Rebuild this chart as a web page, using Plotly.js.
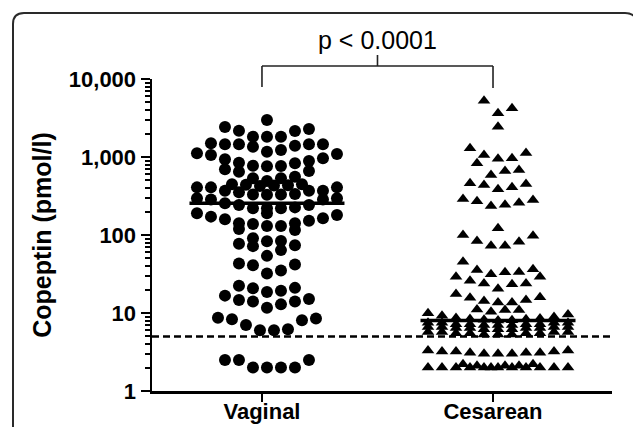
<!DOCTYPE html>
<html><head><meta charset="utf-8">
<script src="https://cdn.plot.ly/plotly-3.0.1.min.js"></script>
<style>html,body{margin:0;padding:0;background:#fff}#chart{width:633px;height:427px}</style>
</head><body><div id="chart"></div>
<script>
// ---------- data ----------
const categories = ['Vaginal', 'Cesarean'];
const vaginal = [
  2.0, 2.0, 2.0, 2.0, 2.5, 2.5, 2.5,
  6.0, 6.0, 6.2, 7.0, 8.1, 8.3, 8.5, 8.7,
  11.7, 12.9, 14.0, 14.0, 14.7, 15.1, 16.7,
  18.6, 19.3, 20.7, 21, 22.4,
  32, 35, 41, 42, 43,
  54, 64, 72, 74, 77,
  83, 84, 91, 116, 119,
  130, 130, 138, 141, 141, 152, 159, 164, 172, 180,
  190, 190,
  220, 220, 220, 226, 243, 243, 255, 286, 286, 295, 295,
  328, 330, 330, 335, 352, 370, 370, 370, 408, 408, 408,
  425, 430, 435, 440, 446, 446,
  492, 533, 533, 559, 649, 662, 695,
  760, 765, 774, 830, 845, 889, 933, 962, 1061, 1092, 1120,
  1169, 1230, 1355, 1396, 1455, 1455, 1455, 1455, 1499,
  1820, 1820, 1820, 2155, 2175, 2285, 2425,
  2980
];
const cesarean = [
  2.0, 2.0, 2.0, 2.0, 2.0, 2.0, 2.0, 2.0, 2.0, 2.0, 2.0, 2.0, 2.1, 2.1, 2.1, 2.2, 2.2,
  3.0, 3.0, 3.0, 3.1, 3.1, 3.1, 3.2, 3.2, 3.2, 3.3, 3.3,
  5.3, 5.3, 5.3, 5.5, 5.5, 5.5, 5.5, 5.7, 5.7, 5.7, 5.7,
  6.2, 6.2, 6.2, 6.4, 6.4, 6.4, 6.4, 6.6, 6.6, 6.6, 6.6,
  7.0, 7.0, 7.0, 7.2, 7.2, 7.2, 7.2, 7.5, 7.5, 7.5, 7.5,
  8.0, 8.1, 8.2, 8.3, 8.4, 8.5, 8.6, 8.9, 9.2, 9.6, 9.9, 10.4, 10.9, 10.9, 11.1,
  13.6, 13.6, 14.3, 14.7, 15.7, 15.9, 17.5,
  20.5, 23.3, 23.9, 23.9,
  26, 29.2, 29.2, 31.3, 33.3, 33.5, 35.5, 36.3,
  45.5,
  73, 73, 82, 84, 98, 100,
  122,
  236, 245, 259, 270, 281, 290,
  387, 408, 438, 450, 462,
  588, 662, 681, 830,
  947, 965, 1061, 1127, 1290,
  2445, 3630, 4210, 5270
];
const medians = [255, 8];
const thresholdValue = 5;
const yTickValues = [1, 10, 100, 1000, 10000];
const yTickLabels = ['1', '10', '100', '1,000', '10,000'];
const yTitle = 'Copeptin (pmol/l)';
const pLabel = 'p < 0.0001';

// ---------- layout constants ----------
const W = 633, H = 427;
const M = {l: 152, r: 21, t: 79, b: 36};
const xRange = [-0.476, 1.515];
const yRange = [0, 4];
const plotW = W - M.l - M.r, plotH = H - M.t - M.b;
const pxPerX = plotW / (xRange[1] - xRange[0]);
const pxPerDecade = plotH / (yRange[1] - yRange[0]);
const slotPx = 14, rowPx = 13.3, rowCap = 11, groupShiftPx = 5;
const FONT = 'Liberation Sans, Arial, sans-serif';

// Prism-like dot layout: rows of close values, spread centre-out
function swarm(values, center) {
  const sorted = values.slice().sort((a, b) => a - b);
  const rows = [];
  let i = 0;
  while (i < sorted.length) {
    const start = Math.log10(sorted[i]);
    let j = i;
    while (j < sorted.length && (Math.log10(sorted[j]) - start) * pxPerDecade < rowPx) j++;
    const bin = sorted.slice(i, j);
    for (let k = 0; k < bin.length; k += rowCap) rows.push(bin.slice(k, k + rowCap));
    i = j;
  }
  const c = center + groupShiftPx / pxPerX;
  const xs = [], ys = [];
  rows.forEach(row => {
    const n = row.length;
    row.forEach((v, idx) => {
      let slot;
      if (n % 2 === 1) {
        if (idx === 0) slot = 0;
        else { const m = Math.ceil(idx / 2); slot = (idx % 2 === 1) ? m : -m; }
      } else {
        if (idx === 0) slot = -0.5;
        else if (idx === 1) slot = 0.5;
        else { const m = Math.floor(idx / 2) + 0.5; slot = (idx % 2 === 0) ? m : -m; }
      }
      xs.push(c + slot * slotPx / pxPerX);
      ys.push(v);
    });
  });
  return {xs, ys};
}

const sv = swarm(vaginal, 0);
const sc = swarm(cesarean, 1);
const medHalf = 77.5 / pxPerX;
const sh = groupShiftPx / pxPerX;

const traces = [
  {x: sv.xs, y: sv.ys, type: 'scatter', mode: 'markers', name: categories[0],
   marker: {symbol: 'circle', size: 12, color: '#000'}, hoverinfo: 'y'},
  {x: sc.xs, y: sc.ys, type: 'scatter', mode: 'markers', name: categories[1],
   marker: {symbol: 'triangle-up', size: 11, color: '#000'}, hoverinfo: 'y'},
  {x: [sh - medHalf, sh + medHalf, null, 1 + sh - medHalf, 1 + sh + medHalf],
   y: [medians[0], medians[0], null, medians[1], medians[1]],
   type: 'scatter', mode: 'lines', line: {color: '#000', width: 3.5}, hoverinfo: 'skip'},
  {x: [xRange[0], xRange[1]], y: [thresholdValue, thresholdValue],
   type: 'scatter', mode: 'lines', line: {color: '#000', width: 2.5, dash: '7px,4px'}, hoverinfo: 'skip'}
];

// pixel -> paper helpers
const px2x = px => (px - M.l) / plotW;
const py2y = py => (H - M.b - py) / plotH;

const minorVals = [];
for (let d = 0; d < 4; d++) for (let k = 2; k <= 9; k++) minorVals.push(k * Math.pow(10, d));

const bracketTop = py2y(66), bracketLeftEnd = py2y(87), bracketRightEnd = py2y(88), bracketTick = py2y(55);
const bl = {color: '#222', width: 1.6};
const cardPath = 'M ' + px2x(13) + ',' + py2y(440) + ' L ' + px2x(13) + ',' + py2y(24) +
  ' Q ' + px2x(13) + ',' + py2y(13) + ' ' + px2x(24) + ',' + py2y(13) +
  ' L ' + px2x(625) + ',' + py2y(13) + ' Q ' + px2x(637) + ',' + py2y(13) + ' ' + px2x(637) + ',' + py2y(25) +
  ' L ' + px2x(637) + ',' + py2y(440);

const layout = {
  width: W, height: H,
  margin: M,
  paper_bgcolor: '#fff', plot_bgcolor: '#fff',
  showlegend: false,
  font: {family: FONT, color: '#000'},
  xaxis: {
    range: xRange, tickmode: 'array', tickvals: [0, 1],
    ticktext: categories.map(c => '<b>' + c + '</b>'),
    tickfont: {size: 22, family: FONT, color: '#000'},
    ticks: 'outside', ticklen: 8, tickwidth: 2.5, tickcolor: '#000',
    ticklabelstandoff: -9,
    showline: true, linewidth: 2.5, linecolor: '#000',
    showgrid: false, zeroline: false, fixedrange: true
  },
  yaxis: {
    type: 'log', range: yRange, tickmode: 'array', tickvals: yTickValues,
    ticktext: yTickLabels.map(t => '<b>' + t + '</b>'),
    tickfont: {size: 22, family: FONT, color: '#000'},
    ticks: 'outside', ticklen: 9, tickwidth: 2.5, tickcolor: '#000',
    minor: {tickmode: 'array', tickvals: minorVals, ticks: 'outside', ticklen: 5, tickwidth: 2, tickcolor: '#000', showgrid: false},
    showline: true, linewidth: 2.5, linecolor: '#000',
    showgrid: false, zeroline: false, fixedrange: true,
    title: {text: '<b>' + yTitle + '</b>', font: {size: 25, family: FONT, color: '#000'}, standoff: 10}
  },
  shapes: [
    {type: 'line', xref: 'x', yref: 'paper', x0: 0, x1: 1, y0: bracketTop, y1: bracketTop, line: bl},
    {type: 'line', xref: 'x', yref: 'paper', x0: 0, x1: 0, y0: bracketTop, y1: bracketLeftEnd, line: bl},
    {type: 'line', xref: 'x', yref: 'paper', x0: 1, x1: 1, y0: bracketTop, y1: bracketRightEnd, line: bl},
    {type: 'line', xref: 'x', yref: 'paper', x0: 0.5, x1: 0.5, y0: bracketTop, y1: bracketTick, line: bl},
    {type: 'path', xref: 'paper', yref: 'paper', path: cardPath, line: {color: '#2a2a2a', width: 2}}
  ],
  annotations: [
    {xref: 'x', yref: 'paper', x: 0.5, y: py2y(40), text: pLabel, showarrow: false,
     xanchor: 'center', yanchor: 'middle', font: {size: 25, family: FONT, color: '#000'}}
  ]
};

Plotly.newPlot('chart', traces, layout, {displayModeBar: false, staticPlot: true});
</script>
</body></html>
